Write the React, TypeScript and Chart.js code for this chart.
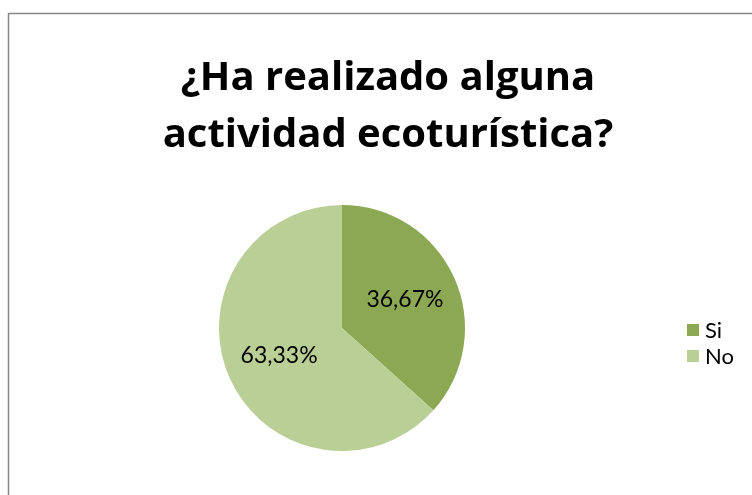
import React, { useEffect, useRef } from "react";
import { Chart, registerables } from "chart.js";

Chart.register(...registerables);

const TITLE_LINES = ["¿Ha realizado alguna", "actividad ecoturística?"];
const CATEGORIES = ["Si", "No"];
const VALUES = [36.67, 63.33];
const COLORS = ["#8CA853", "#B9CF96"];
const LABELS = ["36,67%", "63,33%"];

const FONT = "Lato, 'Open Sans', sans-serif";
const TITLE_FONT = "'Open Sans', Lato, sans-serif";

const framePlugin = {
  id: "frame",
  beforeDraw(chart: any) {
    const ctx = chart.ctx;
    ctx.save();
    ctx.fillStyle = "#ffffff";
    ctx.fillRect(0, 0, chart.width, chart.height);
    ctx.strokeStyle = "#868686";
    ctx.lineWidth = 1.5;
    ctx.strokeRect(8.5, 13.5, chart.width + 20, chart.height + 20);
    // title
    ctx.fillStyle = "#000000";
    ctx.font = `bold 40px ${TITLE_FONT}`;
    ctx.textAlign = "center";
    ctx.textBaseline = "alphabetic";
    ctx.fillText(TITLE_LINES[0], 388, 90);
    ctx.fillText(TITLE_LINES[1], 388, 147);
    ctx.restore();
  },
  afterDatasetsDraw(chart: any) {
    const ctx = chart.ctx;
    const meta = chart.getDatasetMeta(0);
    ctx.save();
    ctx.fillStyle = "#000000";
    ctx.font = `23px ${FONT}`;
    ctx.textAlign = "center";
    ctx.textBaseline = "middle";
    meta.data.forEach((arc: any, i: number) => {
      const p = arc.getProps(["x", "y", "startAngle", "endAngle", "outerRadius"], true);
      const mid = (p.startAngle + p.endAngle) / 2;
      const r = p.outerRadius * 0.56;
      ctx.fillText(LABELS[i], p.x + Math.cos(mid) * r, p.y + Math.sin(mid) * r);
    });
    // legend
    ctx.font = `22px ${FONT}`;
    ctx.textAlign = "left";
    CATEGORIES.forEach((c, i) => {
      const y = 330 + i * 26;
      ctx.fillStyle = COLORS[i];
      ctx.fillRect(687, y - 6, 12, 12);
      ctx.fillStyle = "#000000";
      ctx.fillText(c, 705, y + 1);
    });
    ctx.restore();
  },
};

export default function App() {
  const ref = useRef<HTMLCanvasElement>(null);
  useEffect(() => {
    if (!ref.current) return;
    const chart = new Chart(ref.current, {
      type: "pie",
      data: {
        labels: CATEGORIES,
        datasets: [
          {
            data: VALUES,
            backgroundColor: COLORS,
            borderWidth: 0,
          },
        ],
      },
      options: {
        responsive: false,
        animation: false,
        layout: { padding: { left: 219, right: 287, top: 205, bottom: 44 } },
        plugins: {
          legend: { display: false },
          title: { display: false },
          tooltip: { enabled: false },
        },
      },
      plugins: [framePlugin],
    });
    return () => chart.destroy();
  }, []);
  return (
    <div style={{ position: "fixed", left: 0, top: 0, width: 752, height: 495 }}>
      <canvas ref={ref} width={752} height={495} />
    </div>
  );
}
